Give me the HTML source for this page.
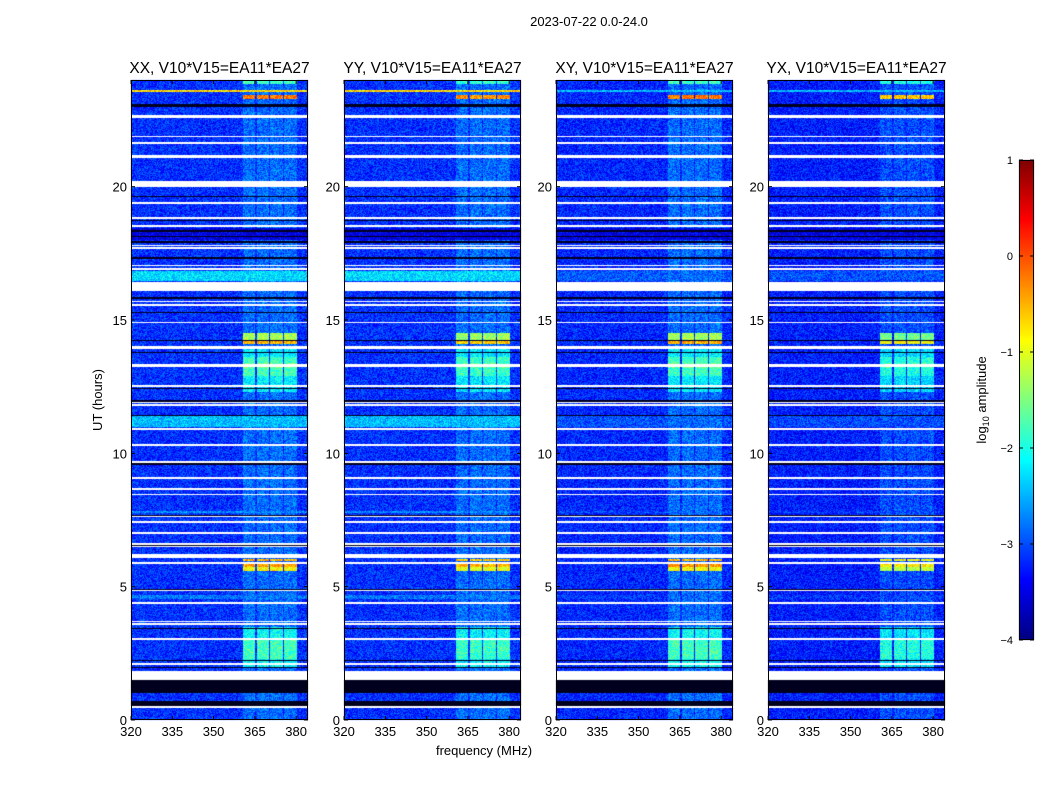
<!DOCTYPE html>
<html><head><meta charset="utf-8">
<style>
body{margin:0;background:#fff;width:1050px;height:800px;overflow:hidden;font-family:"Liberation Sans",sans-serif;}
#wrap{position:relative;width:1050px;height:800px;}
canvas{position:absolute;left:0;top:0;}
</style></head>
<body>
<div id="wrap">
<canvas id="c" width="1050" height="800"></canvas>
<svg id="s" width="1050" height="800" style="position:absolute;left:0;top:0"></svg>
</div>
<script>
// ---- data ----
const panelTitles = ["XX, V10*V15=EA11*EA27","YY, V10*V15=EA11*EA27","XY, V10*V15=EA11*EA27","YX, V10*V15=EA11*EA27"];
const xTicks = [320,335,350,365,380];
const yTicks = [0,5,10,15,20];
const cbTicks = [1,0,-1,-2,-3,-4];
const freqRange = [320,384.3];
const hourRange = [0,24];
const valueRange = [-4,1];
const baseLevel = [-3.15,-3.15,-3.2,-3.25];
const bandLevel = [-2.85,-2.85,-2.85,-3.0];
// channel bands (MHz)
const bandStart = [360.6,365.6,370.6,375.6];
const bandEnd   = [365.2,370.3,375.2,380.2];
// flagged (white) time ranges, hours
const gapStart = [0.46,1.5,2.08,3.0,3.58,3.67,4.35,4.82,5.86,6.07,6.48,6.58,6.98,7.4,7.6,8.42,8.63,9.05,9.65,10.29,10.88,11.78,11.88,12.5,13.22,13.29,13.93,13.98,14.87,15.54,15.66,16.1,16.88,17.01,17.66,17.76,18.5,18.8,19.36,20.0,21.07,21.6,21.85,22.56,22.62];
const gapEnd   = [0.52,1.82,2.13,3.06,3.64,3.72,4.41,4.88,5.92,6.22,6.54,6.64,7.04,7.46,7.66,8.48,8.69,9.11,9.71,10.35,10.94,11.84,11.94,12.56,13.28,13.35,13.99,14.04,14.93,15.6,15.72,16.42,16.94,17.07,17.72,17.82,18.56,18.86,19.42,20.22,21.2,21.66,21.91,22.62,22.68];
// dark (near zero) time ranges, hours
const darkStart = [0.52,1.0,1.95,2.2,3.4,4.85,6.5,7.65,9.55,10.3,11.4,11.9,12.4,13.75,14.2,15.25,15.8,16.35,17.3,17.9,18.1,18.3,18.7,19.6,23.0];
const darkEnd   = [0.7,1.5,2.0,2.25,3.45,4.9,6.55,7.7,9.62,10.35,11.45,12.0,12.45,13.8,14.25,15.3,15.85,16.4,17.35,17.96,18.16,18.36,18.75,19.65,23.1];
// bright features: hour ranges, level, full-width flag
const featStart = [2.0,2.3,5.6,5.75,5.95,12.3,12.9,14.1,14.25,16.45,11.0,23.3,23.55,23.85,13.2,7.75,4.55,18.0];
const featEnd   = [3.5,3.0,5.75,5.9,6.05,14.0,13.6,14.2,14.5,16.85,11.45,23.45,23.62,24.0,13.4,7.85,4.7,18.45];
const featLevel = [-2.1,-1.8,-0.9,-0.4,-0.5,-2.2,-1.8,-0.5,-1.3,-2.3,-2.45,-0.2,-0.7,-1.8,-1.6,-2.7,-2.8,-3.5];
const featFull  = [0,0,0,0,0,0,0,0,0,1,1,0,1,0,0,1,1,1];
// per-panel strength of features (XX,YY,XY,YX)
const featGain = [1.0,0.95,1.0,0.85];
const fullGain = [1.0,1.0,0.3,0.3];

// ---- layout ----
const px0 = [131,344,556,768], PW=177, PY=80, PH=640;
function xs(p,f){return px0[p]+(f-freqRange[0])/(freqRange[1]-freqRange[0])*PW;}
function ys(h){return PY+PH-(h-hourRange[0])/(hourRange[1]-hourRange[0])*PH;}
function clip(v){return Math.max(0,Math.min(1,v));}
function jet(t){t=clip(t);return [clip(1.5-Math.abs(4*t-3)),clip(1.5-Math.abs(4*t-2)),clip(1.5-Math.abs(4*t-1))].map(v=>Math.round(v*255));}
function hash(a,b){let h=(a*374761393+b*668265263)|0;h=(h^(h>>>13))*1274126177|0;return ((h^(h>>>16))>>>0)/4294967296;}

const ctx=document.getElementById('c').getContext('2d');
for(let p=0;p<4;p++){
  const img=ctx.createImageData(PW,PH);
  for(let r=0;r<PH;r++){
    const h=hourRange[1]-(r+0.5)/PH*(hourRange[1]-hourRange[0]);
    let gap=false,dark=false;
    for(let i=0;i<gapStart.length;i++) if(h>=gapStart[i]&&h<gapEnd[i]) gap=true;
    for(let i=0;i<darkStart.length;i++) if(h>=darkStart[i]&&h<darkEnd[i]) dark=true;
    for(let c=0;c<PW;c++){
      const f=freqRange[0]+(c+0.5)/PW*(freqRange[1]-freqRange[0]);
      let inBand=false;
      for(let b=0;b<bandStart.length;b++) if(f>=bandStart[b]&&f<bandEnd[b]) inBand=true;
      let v=inBand?bandLevel[p]:baseLevel[p];
      let fullDark=false;
      for(let i=0;i<featStart.length;i++){
        if(h>=featStart[i]&&h<featEnd[i]){
          if(featFull[i]){
            if(featLevel[i]<baseLevel[p]) { v=Math.min(v,featLevel[i]); fullDark=true; }
            else v=Math.max(v, baseLevel[p]+(featLevel[i]-baseLevel[p])*fullGain[p]);
          }
          else if(inBand){ v=Math.max(v, bandLevel[p]+(featLevel[i]-bandLevel[p])*featGain[p]); }
        }
      }
      v+= (hash(c+p*1000,r)-0.5)*0.75;
      const k=(r*PW+c)*4;
      let col;
      if(gap) col=[255,255,255];
      else if(dark) col=[0,0,30];
      else col=jet((v-valueRange[0])/(valueRange[1]-valueRange[0]));
      img.data[k]=col[0];img.data[k+1]=col[1];img.data[k+2]=col[2];img.data[k+3]=255;
    }
  }
  ctx.putImageData(img,px0[p],PY);
}
// colorbar
const CBX=1019,CBW=15,CBY=160,CBH=480;
for(let r=0;r<CBH;r++){const c=jet(1-(r+0.5)/CBH);ctx.fillStyle=`rgb(${c[0]},${c[1]},${c[2]})`;ctx.fillRect(CBX,CBY+r,CBW,1);}

// ---- svg overlay ----
const svg=document.getElementById('s');const NS='http://www.w3.org/2000/svg';
function el(tag,attrs,parent){const e=document.createElementNS(NS,tag);for(const k in attrs)e.setAttribute(k,attrs[k]);(parent||svg).appendChild(e);return e;}
function txt(x,y,s,size,anchor,extra){const t=el('text',Object.assign({x:x,y:y,'font-size':size,'text-anchor':anchor||'middle','font-family':'Liberation Sans, sans-serif',fill:'#000'},extra||{}));t.textContent=s;return t;}

let t=txt(589,26,"2023-07-22 0.0-24.0",13);



for(let p=0;p<4;p++){
  const g=el('g',{});
  
  
  const fr=el('rect',{x:px0[p]+0.5,y:PY+0.5,width:PW-1,height:PH-1,fill:'none',stroke:'#000','stroke-width':1},g);
  
  
  const tt=txt(px0[p]+PW/2,73,panelTitles[p],15.5,'middle');
  g.appendChild(tt);
  
  
  xTicks.forEach(v=>{
    const x=xs(p,v);
    el('line',{x1:x,y1:PY+PH,x2:x,y2:PY+PH-4,stroke:'#000'},g);
    el('line',{x1:x,y1:PY,x2:x,y2:PY+4,stroke:'#000'},g);
    const l=txt(x,PY+PH+16,String(v),13,'middle');g.appendChild(l);
    
    
  });
  yTicks.forEach(v=>{
    const y=ys(v);
    el('line',{x1:px0[p],y1:y,x2:px0[p]+4,y2:y,stroke:'#000'},g);
    el('line',{x1:px0[p]+PW,y1:y,x2:px0[p]+PW-4,y2:y,stroke:'#000'},g);
    const l=txt(px0[p]-4,y+5,String(v),13,'end');g.appendChild(l);
    
    
  });
}
t=txt(484,755,"frequency (MHz)",13);


t=txt(0,0,"UT (hours)",13,'middle',{transform:'translate(102,400) rotate(-90)'});



const cb=el('rect',{x:CBX+0.5,y:CBY+0.5,width:CBW-1,height:CBH-1,fill:'none',stroke:'#000'});


cbTicks.forEach(v=>{
  const y=CBY+(valueRange[1]-v)/(valueRange[1]-valueRange[0])*CBH;
  el('line',{x1:CBX,y1:y,x2:CBX+4,y2:y,stroke:'#000'});
  el('line',{x1:CBX+CBW,y1:y,x2:CBX+CBW-4,y2:y,stroke:'#000'});
  const l=txt(1013,y+4,v<0?'\u2212'+Math.abs(v):String(v),11,'end');
  
  
});
t=el('text',{transform:'translate(986,400) rotate(-90)','font-size':13,'text-anchor':'middle','font-family':'Liberation Sans, sans-serif'});
t.innerHTML='log<tspan font-size="9" dy="3">10</tspan><tspan dy="-3"> amplitude</tspan>';


</script>
</body></html>
